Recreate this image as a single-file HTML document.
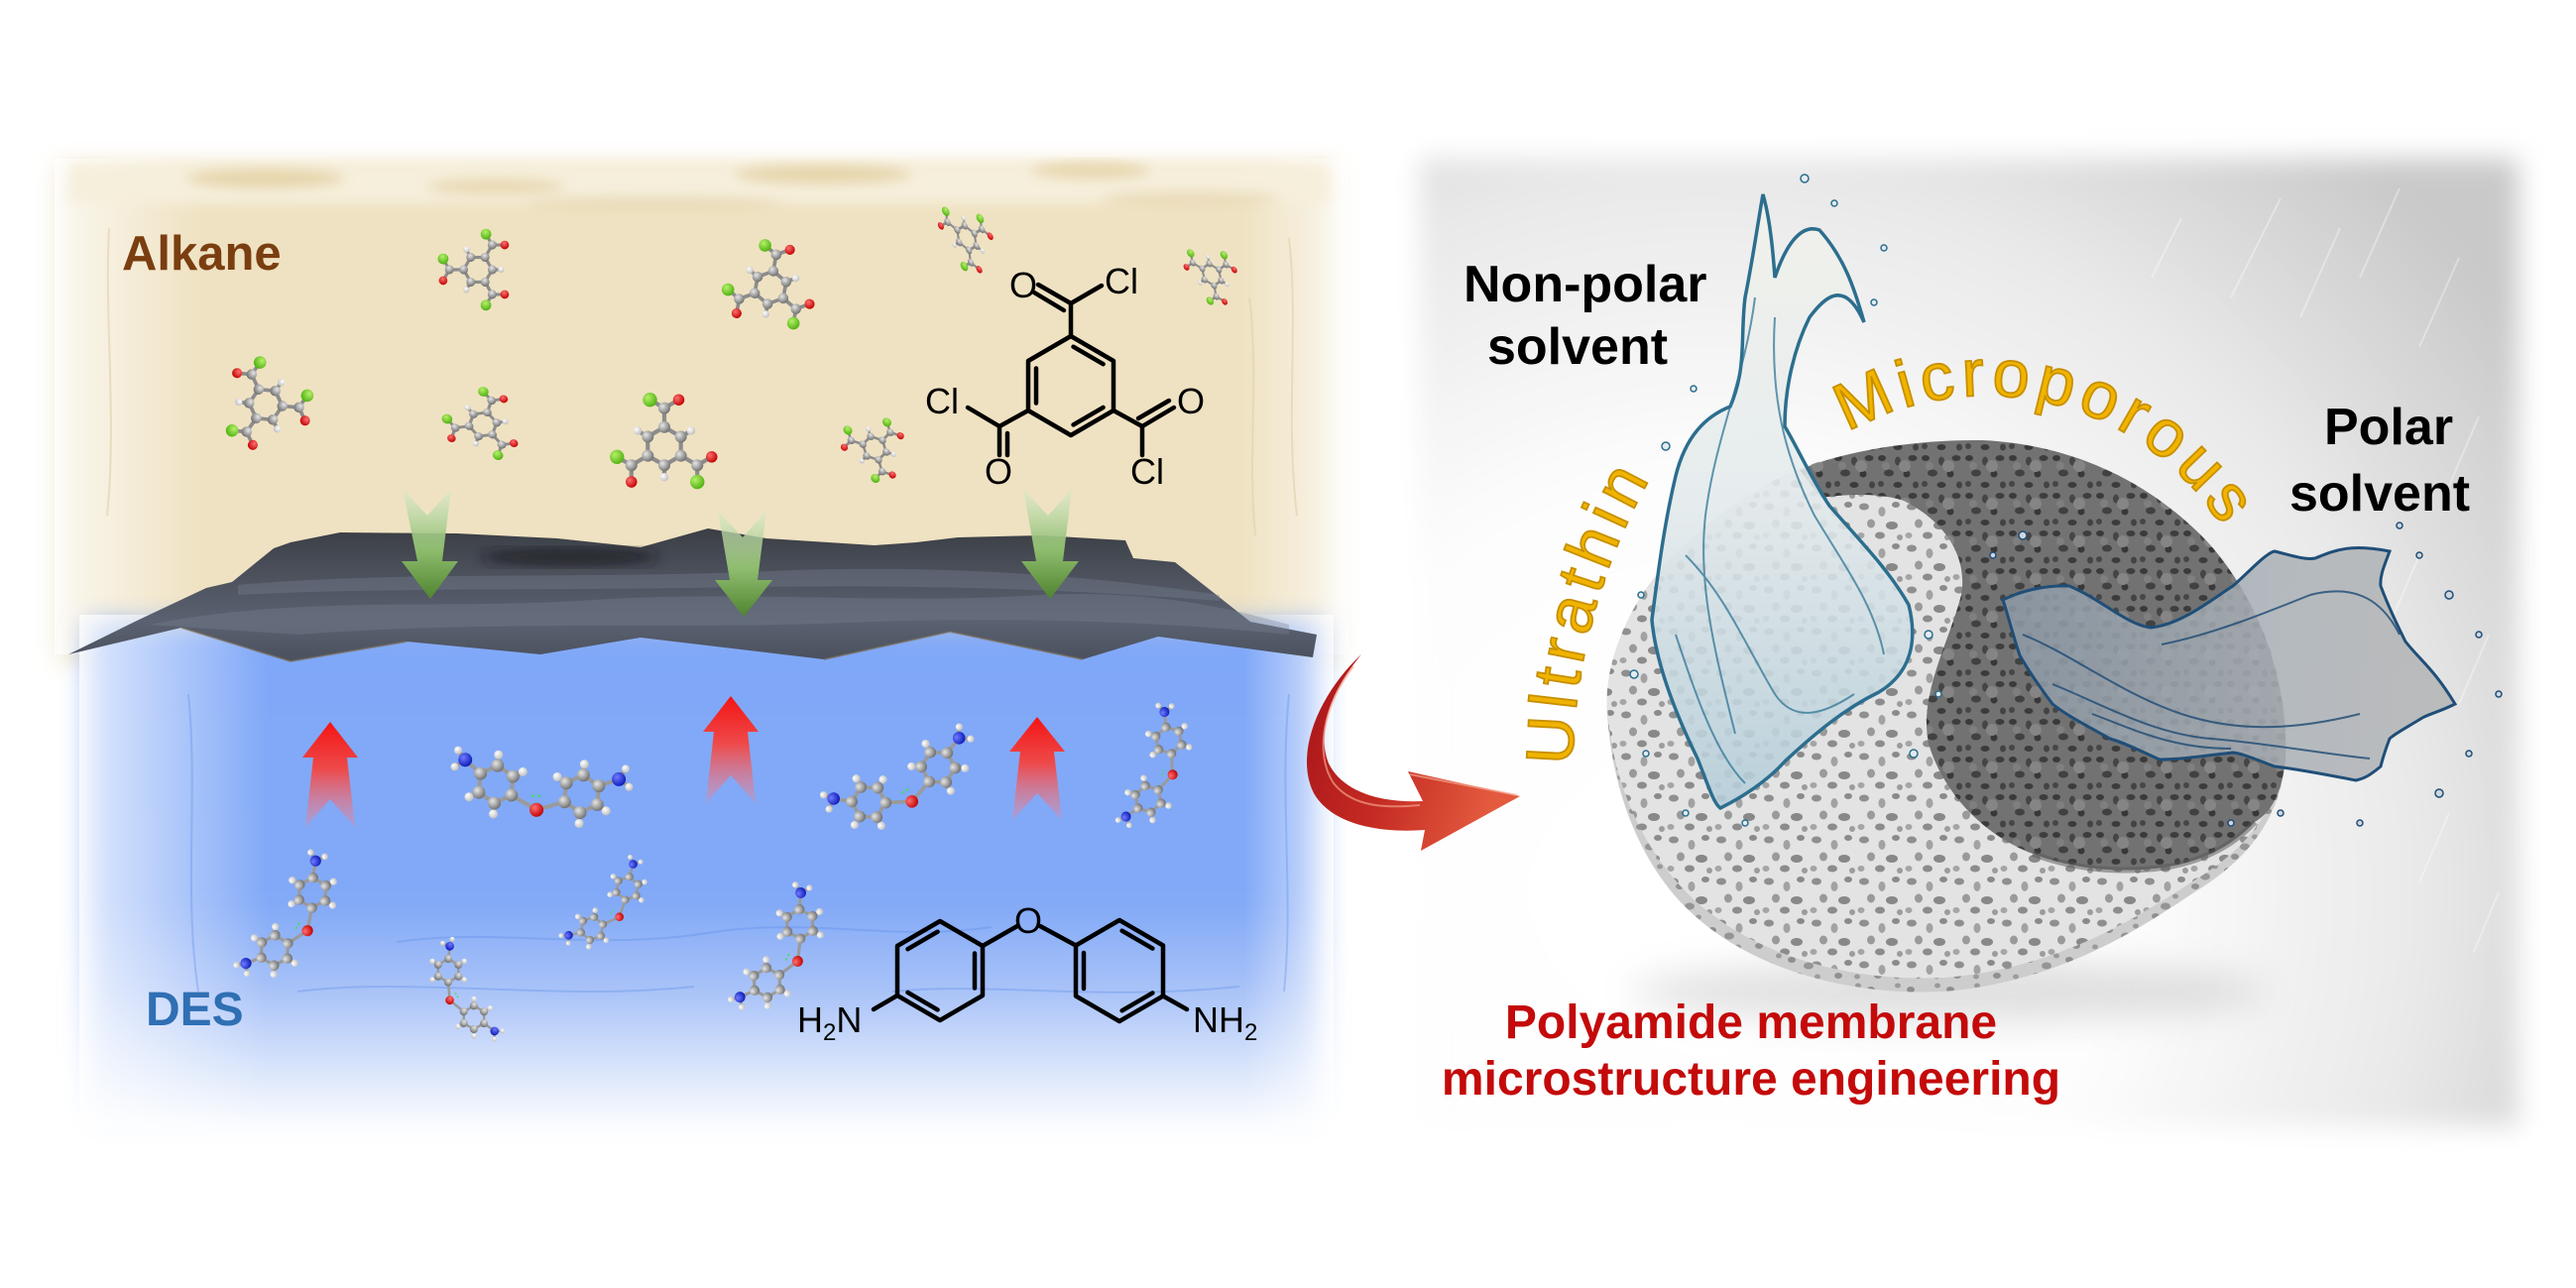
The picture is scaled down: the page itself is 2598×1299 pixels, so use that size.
<!DOCTYPE html>
<html><head><meta charset="utf-8">
<style>
html,body{margin:0;padding:0;background:#fff;}
svg{display:block;}
text{font-family:"Liberation Sans",Arial,sans-serif;}
</style></head><body>
<svg width="2598" height="1299" viewBox="0 0 2598 1299" xmlns="http://www.w3.org/2000/svg">
<defs>
  <filter id="soft" x="-5%" y="-5%" width="110%" height="110%"><feGaussianBlur stdDeviation="13"/></filter>
  <filter id="soft6" x="-10%" y="-10%" width="120%" height="120%"><feGaussianBlur stdDeviation="6"/></filter>
  <filter id="soft20" x="-20%" y="-50%" width="140%" height="200%"><feGaussianBlur stdDeviation="18"/></filter>
  <filter id="b1"><feGaussianBlur stdDeviation="1"/></filter>

  <radialGradient id="gC" cx="35%" cy="35%" r="70%"><stop offset="0" stop-color="#e6e6e6"/><stop offset="1" stop-color="#6e6e6e"/></radialGradient>
  <radialGradient id="gH" cx="35%" cy="35%" r="70%"><stop offset="0" stop-color="#ffffff"/><stop offset="1" stop-color="#bdbdbd"/></radialGradient>
  <radialGradient id="gO" cx="35%" cy="35%" r="70%"><stop offset="0" stop-color="#ff7070"/><stop offset="1" stop-color="#c00000"/></radialGradient>
  <radialGradient id="gN" cx="35%" cy="35%" r="70%"><stop offset="0" stop-color="#6f7bff"/><stop offset="1" stop-color="#0c1ab8"/></radialGradient>
  <radialGradient id="gCl" cx="35%" cy="35%" r="70%"><stop offset="0" stop-color="#b6f06a"/><stop offset="1" stop-color="#4fb010"/></radialGradient>

  <linearGradient id="gGreen" x1="0" y1="0" x2="0" y2="1">
    <stop offset="0" stop-color="#d9ebcc" stop-opacity="0.6"/>
    <stop offset="0.55" stop-color="#8fbd6e"/>
    <stop offset="1" stop-color="#4f8430"/>
  </linearGradient>
  <linearGradient id="gRedA" x1="0" y1="0" x2="0" y2="1">
    <stop offset="0" stop-color="#f41414"/>
    <stop offset="0.45" stop-color="#ee4a4a"/>
    <stop offset="1" stop-color="#e88aa0" stop-opacity="0.35"/>
  </linearGradient>
  <linearGradient id="gBlue" x1="0" y1="0" x2="0" y2="1">
    <stop offset="0" stop-color="#80a8f8"/>
    <stop offset="0.55" stop-color="#82a9f7"/>
    <stop offset="0.72" stop-color="#a8c2f8"/>
    <stop offset="0.88" stop-color="#dbe6fb"/>
    <stop offset="1" stop-color="#ffffff"/>
  </linearGradient>
  <linearGradient id="gEdgeL" x1="0" y1="0" x2="1" y2="0">
    <stop offset="0" stop-color="#ffffff" stop-opacity="0.75"/>
    <stop offset="1" stop-color="#ffffff" stop-opacity="0"/>
  </linearGradient>
  <linearGradient id="gEdgeR" x1="0" y1="0" x2="1" y2="0">
    <stop offset="0" stop-color="#ffffff" stop-opacity="0"/>
    <stop offset="1" stop-color="#ffffff" stop-opacity="0.7"/>
  </linearGradient>
  <linearGradient id="gMem" x1="0" y1="0" x2="0" y2="1">
    <stop offset="0" stop-color="#3b3e44"/>
    <stop offset="0.35" stop-color="#4c515c"/>
    <stop offset="0.7" stop-color="#5a6170"/>
    <stop offset="1" stop-color="#4a505d"/>
  </linearGradient>
  <linearGradient id="gArrow" x1="0" y1="0" x2="1" y2="0.3">
    <stop offset="0" stop-color="#a8141a"/>
    <stop offset="0.5" stop-color="#c42a22"/>
    <stop offset="1" stop-color="#e35a3e"/>
  </linearGradient>
  <radialGradient id="gGray" gradientUnits="userSpaceOnUse" cx="1720" cy="900" r="1000">
    <stop offset="0" stop-color="#ffffff"/>
    <stop offset="0.42" stop-color="#fdfdfd"/>
    <stop offset="0.72" stop-color="#e9e9e9"/>
    <stop offset="1" stop-color="#c9c9c9"/>
  </radialGradient>
  <linearGradient id="gSplL" x1="0" y1="0" x2="0" y2="1">
    <stop offset="0" stop-color="#f2f2ec"/>
    <stop offset="0.5" stop-color="#e3eaec"/>
    <stop offset="1" stop-color="#b4cdd9"/>
  </linearGradient>
  <linearGradient id="gSplR" x1="0" y1="0" x2="1" y2="0">
    <stop offset="0" stop-color="#8d9aa7"/>
    <stop offset="0.6" stop-color="#a9b0b6"/>
    <stop offset="1" stop-color="#b4b4b4"/>
  </linearGradient>

  <pattern id="pW" width="48" height="42" patternUnits="userSpaceOnUse">
    <rect width="48" height="42" fill="#e3e3e3"/>
    <ellipse cx="8" cy="7" rx="5" ry="3.5" fill="#8f8f8f"/>
    <ellipse cx="26" cy="12" rx="3.5" ry="5" fill="#a2a2a2"/>
    <ellipse cx="40" cy="5" rx="4" ry="3" fill="#8a8a8a"/>
    <ellipse cx="15" cy="24" rx="4" ry="4.5" fill="#9a9a9a"/>
    <ellipse cx="36" cy="26" rx="6" ry="4" fill="#888888"/>
    <ellipse cx="5" cy="36" rx="3.5" ry="3" fill="#a5a5a5"/>
    <ellipse cx="24" cy="36" rx="5" ry="3.5" fill="#8c8c8c"/>
    <ellipse cx="44" cy="38" rx="3" ry="3" fill="#9c9c9c"/>
  </pattern>
  <pattern id="pR" width="40" height="30" patternUnits="userSpaceOnUse">
    <rect width="40" height="30" fill="#cdcdcd"/>
    <ellipse cx="7" cy="8" rx="4" ry="3" fill="#8e8e8e"/>
    <ellipse cx="24" cy="14" rx="5" ry="3.5" fill="#959595"/>
    <ellipse cx="34" cy="4" rx="3" ry="2.5" fill="#9a9a9a"/>
    <ellipse cx="14" cy="24" rx="4" ry="3" fill="#909090"/>
    <ellipse cx="33" cy="25" rx="3" ry="2.5" fill="#9c9c9c"/>
  </pattern>
  <pattern id="pD" width="44" height="38" patternUnits="userSpaceOnUse">
    <rect width="44" height="38" fill="#727272"/>
    <ellipse cx="6" cy="6" rx="4" ry="3" fill="#3a3a3a"/>
    <ellipse cx="22" cy="9" rx="3" ry="4.5" fill="#454545"/>
    <ellipse cx="37" cy="6" rx="4.5" ry="3" fill="#3d3d3d"/>
    <ellipse cx="13" cy="21" rx="5" ry="3.5" fill="#414141"/>
    <ellipse cx="31" cy="22" rx="3.5" ry="3.5" fill="#383838"/>
    <ellipse cx="5" cy="32" rx="3" ry="3" fill="#464646"/>
    <ellipse cx="22" cy="33" rx="4.5" ry="3" fill="#3b3b3b"/>
    <ellipse cx="40" cy="33" rx="3" ry="3.5" fill="#434343"/>
    <circle cx="29" cy="14" r="6" fill="#858585"/>
    <circle cx="10" cy="14" r="4" fill="#7f7f7f"/>
  </pattern>

  <!-- TMC ball and stick -->
  <g id="tmc">
    <g stroke="#8c8c8c" stroke-width="3.5" fill="none">
      <polygon points="0,-16 13.9,-8 13.9,8 0,16 -13.9,8 -13.9,-8"/>
      <line x1="0" y1="-16" x2="0" y2="-32"/><line x1="0" y1="-32" x2="-12.1" y2="-39"/><line x1="0" y1="-32" x2="12.1" y2="-39"/>
      <line x1="13.9" y1="8" x2="27.7" y2="16"/><line x1="27.7" y1="16" x2="27.7" y2="30"/><line x1="27.7" y1="16" x2="39.8" y2="9"/>
      <line x1="-13.9" y1="8" x2="-27.7" y2="16"/><line x1="-27.7" y1="16" x2="-39.8" y2="9"/><line x1="-27.7" y1="16" x2="-27.7" y2="30"/>
      <line x1="13.9" y1="-8" x2="22.5" y2="-13"/><line x1="0" y1="16" x2="0" y2="26"/><line x1="-13.9" y1="-8" x2="-22.5" y2="-13"/>
    </g>
    <g fill="url(#gC)">
      <circle cx="0" cy="-16" r="5"/><circle cx="13.9" cy="-8" r="5"/><circle cx="13.9" cy="8" r="5"/><circle cx="0" cy="16" r="5"/><circle cx="-13.9" cy="8" r="5"/><circle cx="-13.9" cy="-8" r="5"/>
      <circle cx="0" cy="-32" r="5"/><circle cx="27.7" cy="16" r="5"/><circle cx="-27.7" cy="16" r="5"/>
    </g>
    <g fill="url(#gCl)"><circle cx="-12.1" cy="-39" r="6"/><circle cx="27.7" cy="30" r="6"/><circle cx="-39.8" cy="9" r="6"/></g>
    <g fill="url(#gO)"><circle cx="12.1" cy="-39" r="4.8"/><circle cx="39.8" cy="9" r="4.8"/><circle cx="-27.7" cy="30" r="4.8"/></g>
    <g fill="url(#gH)"><circle cx="22.5" cy="-13" r="3.5"/><circle cx="0" cy="26" r="3.5"/><circle cx="-22.5" cy="-13" r="3.5"/></g>
  </g>

  <!-- ODA ball and stick -->
  <g id="oda">
    <g stroke="#9a9a9a" stroke-width="4" fill="none">
      <polygon points="-45,-19 -28.5,-9.5 -28.5,9.5 -45,19 -61.5,9.5 -61.5,-9.5"/>
      <polygon points="42,-17 58.5,-7.5 58.5,11.5 42,21 25.5,11.5 25.5,-7.5"/>
      <polyline points="-28.5,9.5 -2,22 25.5,11.5"/>
      <line x1="-61.5" y1="-9.5" x2="-78" y2="-22"/><line x1="58.5" y1="-7.5" x2="78" y2="-16"/>
      <line x1="-78" y1="-22" x2="-86" y2="-31"/><line x1="-78" y1="-22" x2="-88" y2="-14"/>
      <line x1="78" y1="-16" x2="84" y2="-27"/><line x1="78" y1="-16" x2="89" y2="-9"/>
      <line x1="-45" y1="-19" x2="-45" y2="-30"/><line x1="-45" y1="19" x2="-45" y2="30"/><line x1="-61.5" y1="9.5" x2="-71" y2="15"/><line x1="-28.5" y1="-9.5" x2="-19" y2="-15"/>
      <line x1="42" y1="-17" x2="42" y2="-28"/><line x1="42" y1="21" x2="42" y2="32"/><line x1="58.5" y1="11.5" x2="68" y2="17"/><line x1="25.5" y1="-7.5" x2="16" y2="-13"/>
    </g>
    <g fill="url(#gH)">
      <circle cx="-86" cy="-31" r="4"/><circle cx="-88" cy="-14" r="4"/><circle cx="84" cy="-27" r="4"/><circle cx="89" cy="-9" r="4"/>
      <circle cx="-45" cy="-30" r="4.5"/><circle cx="-45" cy="30" r="4.5"/><circle cx="-71" cy="15" r="4.5"/><circle cx="-19" cy="-15" r="4.5"/>
      <circle cx="42" cy="-28" r="4.5"/><circle cx="42" cy="32" r="4.5"/><circle cx="68" cy="17" r="4.5"/><circle cx="16" cy="-13" r="4.5"/>
    </g>
    <g fill="url(#gC)">
      <circle cx="-45" cy="-19" r="6.5"/><circle cx="-28.5" cy="-9.5" r="6.5"/><circle cx="-28.5" cy="9.5" r="6.5"/><circle cx="-45" cy="19" r="6.5"/><circle cx="-61.5" cy="9.5" r="6.5"/><circle cx="-61.5" cy="-9.5" r="6.5"/>
      <circle cx="42" cy="-17" r="6.5"/><circle cx="58.5" cy="-7.5" r="6.5"/><circle cx="58.5" cy="11.5" r="6.5"/><circle cx="42" cy="21" r="6.5"/><circle cx="25.5" cy="11.5" r="6.5"/><circle cx="25.5" cy="-7.5" r="6.5"/>
    </g>
    <circle cx="-2" cy="22" r="7" fill="url(#gO)"/>
    <circle cx="-78" cy="-22" r="7" fill="url(#gN)"/><circle cx="78" cy="-16" r="7" fill="url(#gN)"/>
    <line x1="-8" y1="8" x2="4" y2="8" stroke="#3ee05a" stroke-width="2" stroke-dasharray="3 3"/>
  </g>
</defs>

<rect width="2598" height="1299" fill="#ffffff"/>

<!-- ================= LEFT PANEL ================= -->
<rect x="60" y="166" width="1285" height="500" fill="#efe2c2" filter="url(#soft)"/>
<rect x="55" y="160" width="150" height="500" fill="url(#gEdgeL)"/>
<rect x="1250" y="160" width="110" height="500" fill="url(#gEdgeR)"/>
<g filter="url(#soft6)">
  <rect x="70" y="165" width="1270" height="40" fill="#f6efdc"/>
  <ellipse cx="268" cy="180" rx="80" ry="10" fill="#e6d5aa"/>
  <ellipse cx="500" cy="188" rx="70" ry="8" fill="#e8d8b0"/>
  <ellipse cx="830" cy="176" rx="90" ry="10" fill="#e6d6ac"/>
  <ellipse cx="1100" cy="172" rx="60" ry="9" fill="#e8d8b0"/>
  <ellipse cx="660" cy="205" rx="130" ry="7" fill="#e9dbb8"/>
  <ellipse cx="1200" cy="200" rx="90" ry="7" fill="#eadcba"/>
</g>
<g stroke="#e3d4ae" stroke-width="2" fill="none" opacity="0.7">
  <path d="M110,230 C105,320 118,420 108,520"/>
  <path d="M1300,240 C1310,330 1296,420 1308,520"/>
  <path d="M1260,300 C1270,380 1258,460 1266,540"/>
</g>

<rect x="88" y="628" width="1245" height="515" fill="url(#gBlue)" filter="url(#soft)"/>
<rect x="80" y="620" width="190" height="520" fill="url(#gEdgeL)"/>
<rect x="1255" y="620" width="90" height="520" fill="url(#gEdgeR)"/>
<g stroke="#5e8de6" stroke-width="2" fill="none" opacity="0.35">
  <path d="M190,700 C200,800 185,900 200,1000"/>
  <path d="M1300,700 C1290,800 1305,900 1295,1000"/>
  <path d="M400,950 C500,935 600,960 720,940 C820,925 900,950 1000,935"/>
  <path d="M300,1000 C420,985 560,1010 700,995"/>
  <path d="M900,1000 C1000,990 1100,1010 1250,995"/>
</g>

<polygon points="69,660 140,625 208,593 234,587 276,553 293,547 343,537 461,538 562,543 646,552 714,533 773,543 882,550 924,547 966,542 1050,540 1135,545 1143,563 1185,567 1261,627 1328,640 1324,663 1168,642 1092,665 958,637 831,665 646,643 545,660 410,647 293,667 183,633" fill="url(#gMem)"/>
<g opacity="0.35" fill="#7a8396">
  <path d="M150,630 C300,600 450,615 600,605 C750,595 900,610 1050,600 C1150,595 1230,610 1300,630 L1300,640 C1150,625 1000,622 850,628 C700,635 500,625 300,640 Z"/>
  <path d="M240,590 C400,575 600,585 800,575 C950,570 1100,580 1230,600 L1230,606 C1050,592 900,590 750,592 C550,596 400,592 240,600 Z"/>
</g>
<ellipse cx="575" cy="562" rx="90" ry="10" fill="#15171a" opacity="0.6" filter="url(#soft6)"/>
<g stroke="#7a6a50" stroke-width="2" fill="none" opacity="0.6">
  <path d="M183,633 L293,667 L410,647"/><path d="M831,665 L958,637 L1092,665"/>
</g>

<path d="M406,493 L431,520 L455,493 L446,566 L462,566 L434,604 L405,566 L421,566 Z" fill="url(#gGreen)"/>
<path d="M724,515 L749,542 L773,515 L764,585 L779,585 L750,622 L721,585 L736,585 Z" fill="url(#gGreen)"/>
<path d="M1032,493 L1057,520 L1081,493 L1072,566 L1088,566 L1059,604 L1030,566 L1045,566 Z" fill="url(#gGreen)"/>

<path d="M333,728 L361,764 L350,764 L358,834 L333,806 L308,834 L316,764 L305,764 Z" fill="url(#gRedA)"/>
<path d="M737,702 L765,738 L754,738 L762,810 L737,782 L712,810 L720,738 L709,738 Z" fill="url(#gRedA)"/>
<path d="M1046,723 L1074,758 L1063,758 L1071,827 L1046,800 L1021,827 L1029,758 L1018,758 Z" fill="url(#gRedA)"/>

<use href="#tmc" transform="translate(482,272) rotate(30) scale(0.9)"/>
<use href="#tmc" transform="translate(777,290) rotate(10) scale(1.05)"/>
<use href="#tmc" transform="translate(975,240) rotate(60) scale(0.85,0.55)"/>
<use href="#tmc" transform="translate(1222,277) rotate(55) scale(0.75,0.55)"/>
<use href="#tmc" transform="translate(268,408) rotate(95) scale(1.05)"/>
<use href="#tmc" transform="translate(487,428) rotate(20) scale(0.9,0.8)"/>
<use href="#tmc" transform="translate(670,450) scale(1.2)"/>
<use href="#tmc" transform="translate(882,452) rotate(45) scale(0.8,0.7)"/>

<use href="#oda" transform="translate(545,795) rotate(5) scale(1.0)"/>
<use href="#oda" transform="translate(912,790) rotate(-28) scale(0.9)"/>
<use href="#oda" transform="translate(1168,775) rotate(-72) scale(0.72)"/>
<use href="#oda" transform="translate(296,928) rotate(-58) scale(0.8)"/>
<use href="#oda" transform="translate(466,1003) rotate(60) scale(0.62)"/>
<use href="#oda" transform="translate(615,915) rotate(-50) scale(0.62)"/>
<use href="#oda" transform="translate(790,960) rotate(-62) scale(0.78)"/>

<g stroke="#000" stroke-width="4.5" fill="none" stroke-linecap="round" stroke-linejoin="round">
  <polygon points="1080,339 1123,364 1123,414 1080,439 1037,414 1037,364"/>
  <line x1="1082.5" y1="349.7" x2="1112.6" y2="367.2"/>
  <line x1="1112.6" y1="410.9" x2="1082.5" y2="428.4"/>
  <line x1="1045" y1="406.5" x2="1045" y2="371.5"/>
  <line x1="1080" y1="339" x2="1080" y2="306"/>
  <line x1="1080" y1="306" x2="1047" y2="287"/>
  <line x1="1073" y1="313" x2="1043" y2="295"/>
  <line x1="1080" y1="306" x2="1111" y2="288"/>
  <line x1="1037" y1="414" x2="1008" y2="430"/>
  <line x1="1008" y1="430" x2="976" y2="411"/>
  <line x1="1008" y1="430" x2="1008" y2="459"/>
  <line x1="1016" y1="437" x2="1016" y2="459"/>
  <line x1="1123" y1="414" x2="1152" y2="430"/>
  <line x1="1152" y1="430" x2="1184" y2="411"/>
  <line x1="1148" y1="422" x2="1179" y2="404"/>
  <line x1="1152" y1="430" x2="1152" y2="459"/>
</g>
<g font-size="36" fill="#000" text-anchor="middle">
  <text x="1032" y="300">O</text>
  <text x="1131" y="296">Cl</text>
  <text x="950" y="417">Cl</text>
  <text x="1007" y="488">O</text>
  <text x="1201" y="417">O</text>
  <text x="1157" y="488">Cl</text>
</g>

<g stroke="#000" stroke-width="4.5" fill="none" stroke-linecap="round" stroke-linejoin="round">
  <polygon points="948,929 991,954 991,1004 948,1029 905,1004 905,954"/>
  <line x1="915.5" y1="957.2" x2="945.6" y2="939.7"/>
  <line x1="983" y1="961.5" x2="983" y2="996.5"/>
  <line x1="915.5" y1="1000.9" x2="945.6" y2="1018.4"/>
  <polygon points="1129,928 1173,953.5 1173,1004.5 1129,1030 1085,1004.5 1085,953.5"/>
  <line x1="1131.6" y1="938.7" x2="1162.4" y2="956.6"/>
  <line x1="1162.4" y1="1001.4" x2="1131.6" y2="1019.3"/>
  <line x1="1093" y1="961" x2="1093" y2="997"/>
  <line x1="991" y1="954" x2="1026" y2="934"/>
  <line x1="1049" y1="934" x2="1085" y2="953.5"/>
  <line x1="905" y1="1004" x2="881" y2="1018"/>
  <line x1="1173" y1="1004.5" x2="1197" y2="1018"/>
</g>
<g font-size="36" fill="#000">
  <text x="1037" y="941" text-anchor="middle">O</text>
  <text x="804" y="1041">H<tspan font-size="24" dy="8">2</tspan><tspan dy="-8">N</tspan></text>
  <text x="1203" y="1041">NH<tspan font-size="24" dy="8">2</tspan></text>
</g>

<text x="123" y="272" font-size="49" font-weight="bold" fill="#7a3e10">Alkane</text>
<text x="147" y="1034" font-size="48" font-weight="bold" fill="#2f6fb3">DES</text>

<!-- ================= RIGHT PANEL ================= -->
<rect x="1432" y="160" width="1108" height="976" fill="url(#gGray)" filter="url(#soft)"/>
<g stroke="#ffffff" stroke-width="2" opacity="0.35">
  <path d="M2300,200 L2250,300 M2360,230 L2320,320 M2420,190 L2380,280 M2480,260 L2440,350 M2500,420 L2470,490 M2440,560 L2410,630 M2510,640 L2480,710 M2470,820 L2440,890 M2200,220 L2170,280 M2520,900 L2495,960"/>
</g>

<!-- curved red arrow (drawn above gray box) -->
<path d="M1373,660 C1330,700 1305,760 1325,800 C1345,835 1400,840 1437,837 L1433,858 L1533,803 L1420,778 L1435,808 C1395,810 1355,800 1340,770 C1328,740 1340,700 1373,660 Z" fill="url(#gArrow)"/>
<path d="M1365,672 C1335,710 1325,760 1345,790 C1365,815 1400,815 1432,812" stroke="#f2a08a" stroke-width="2" fill="none" opacity="0.7"/>
<path d="M1422,781 L1530,802" stroke="#f4a58e" stroke-width="2" opacity="0.7"/>

<!-- disc shadow -->
<ellipse cx="1965" cy="1000" rx="320" ry="30" fill="#9a9a9a" opacity="0.3" filter="url(#soft20)"/>

<!-- disc rim (outer) -->
<path d="M1621,719 C1618,680 1640,610 1690,560 C1740,510 1800,470 1866,458 C1930,444 2000,444 2060,458 C2140,476 2200,515 2240,565 C2285,620 2310,700 2305,764 C2300,830 2262,870 2213,900 C2160,935 2080,990 1960,1000 C1860,1005 1760,975 1700,915 C1650,865 1625,790 1621,719 Z" fill="url(#pR)"/>
<!-- white top face -->
<path d="M1621,712 C1618,673 1640,607 1690,558 C1740,509 1800,470 1866,458 C1930,444 2000,444 2060,458 C2140,476 2200,515 2240,565 C2285,620 2309,695 2304,758 C2298,820 2262,858 2213,888 C2160,922 2080,976 1961,986 C1863,991 1765,962 1705,904 C1655,856 1625,785 1621,712 Z" fill="url(#pW)"/>
<!-- dark region -->
<path d="M1815,474 C1860,455 1930,443 2000,444 C2080,448 2160,478 2225,545 C2280,605 2308,690 2305,764 C2302,800 2290,820 2274,829 C2250,855 2220,868 2188,874 C2150,880 2100,880 2050,861 C2000,842 1960,800 1945,750 C1935,700 1965,650 1978,600 C1985,560 1960,525 1920,505 C1890,495 1850,500 1836,502 Z" fill="url(#pD)"/>
<path d="M2274,829 C2250,855 2220,868 2188,874 C2150,880 2100,880 2050,861" stroke="#555" stroke-width="6" fill="none" opacity="0.5"/>

<!-- left splash -->
<path d="M1778,196 C1772,230 1768,260 1760,300 C1755,340 1762,370 1745,410 C1720,420 1700,440 1690,480 C1678,530 1672,580 1666,625 C1670,670 1690,720 1712,765 C1722,790 1728,810 1735,815 C1755,805 1780,790 1800,768 C1830,740 1860,715 1895,698 C1925,680 1935,650 1925,610 C1905,575 1880,550 1845,510 C1828,485 1812,450 1800,430 C1800,390 1810,350 1825,320 C1840,300 1860,280 1880,325 C1870,290 1860,260 1835,232 C1815,225 1800,250 1790,280 C1788,250 1785,220 1778,196 Z" fill="url(#gSplL)" fill-opacity="0.88" stroke="#2c6e8e" stroke-width="3.5"/>
<g stroke="#2f7595" stroke-width="2" fill="none" opacity="0.75">
  <path d="M1770,300 C1760,380 1730,440 1720,520 C1712,590 1730,660 1750,740"/>
  <path d="M1790,320 C1785,400 1800,460 1830,520 C1860,570 1890,610 1900,660"/>
  <path d="M1700,560 C1740,600 1760,650 1790,700 C1810,730 1840,720 1870,700"/>
  <path d="M1690,640 C1710,700 1730,760 1760,790"/>
</g>
<g fill="#e3ecf0" stroke="#2c6e8e" stroke-width="1.5">
  <circle cx="1820" cy="180" r="4"/><circle cx="1850" cy="205" r="3"/><circle cx="1708" cy="392" r="3"/><circle cx="1680" cy="450" r="4"/>
  <circle cx="1655" cy="600" r="3"/><circle cx="1648" cy="680" r="4"/><circle cx="1660" cy="760" r="3"/><circle cx="1900" cy="250" r="3"/>
  <circle cx="1945" cy="640" r="4"/><circle cx="1955" cy="700" r="3"/><circle cx="1930" cy="760" r="4"/><circle cx="1890" cy="305" r="3"/>
  <circle cx="1700" cy="820" r="3"/><circle cx="1760" cy="830" r="3"/>
</g>

<!-- right splash -->
<path d="M2020,605 C2040,595 2065,590 2087,591 C2120,605 2145,630 2169,633 C2200,630 2230,605 2252,591 C2270,575 2285,558 2294,556 C2310,560 2325,565 2335,563 C2355,555 2370,548 2410,556 C2405,570 2400,580 2401,591 C2410,615 2420,635 2426,647 C2440,665 2455,675 2476,710 C2460,718 2450,720 2443,724 C2425,735 2415,740 2410,745 C2405,758 2403,765 2401,773 C2390,782 2385,785 2376,787 C2350,782 2320,776 2294,773 C2275,766 2262,760 2252,759 C2225,762 2200,766 2178,766 C2160,758 2145,750 2128,745 C2105,732 2085,722 2070,710 C2055,690 2045,675 2037,661 C2030,640 2025,620 2020,605 Z" fill="url(#gSplR)" fill-opacity="0.85" stroke="#1f4e78" stroke-width="3"/>
<g stroke="#1d4a74" stroke-width="2" fill="none" opacity="0.8">
  <path d="M2040,640 C2090,660 2140,700 2200,720 C2260,740 2320,735 2380,720"/>
  <path d="M2070,690 C2120,710 2170,740 2230,745 C2290,750 2340,760 2390,765"/>
  <path d="M2180,650 C2230,640 2280,620 2330,600 C2370,590 2400,600 2420,640"/>
  <path d="M2110,720 C2150,735 2190,755 2250,755"/>
</g>
<g fill="#d0d6dc" stroke="#1f4e78" stroke-width="1.5">
  <circle cx="2010" cy="560" r="3"/><circle cx="2040" cy="540" r="4"/><circle cx="2440" cy="560" r="3"/><circle cx="2470" cy="600" r="4"/>
  <circle cx="2500" cy="640" r="3"/><circle cx="2490" cy="760" r="3"/><circle cx="2460" cy="800" r="4"/><circle cx="2300" cy="820" r="3"/>
  <circle cx="2250" cy="830" r="3"/><circle cx="2520" cy="700" r="3"/><circle cx="2420" cy="530" r="3"/><circle cx="2380" cy="830" r="3"/>
</g>

<g font-weight="bold" fill="#000" font-size="52">
  <text x="1476" y="304">Non-polar</text>
  <text x="1500" y="367">solvent</text>
  <text x="2344" y="448">Polar</text>
  <text x="2309" y="515">solvent</text>
</g>

<g font-size="67" fill="#f0b400" stroke="#c78f00" stroke-width="1.8" text-anchor="middle">
  <text transform="translate(1888.2,423.6) rotate(-24.2)">M</text>
  <text transform="translate(1927.1,409.5) rotate(-15.7)">i</text>
  <text transform="translate(1956.8,402.8) rotate(-9.5)">c</text>
  <text transform="translate(1990.7,399.3) rotate(-2.5)">r</text>
  <text transform="translate(2026.7,400.0) rotate(4.9)">o</text>
  <text transform="translate(2069.4,407.0) rotate(13.7)">p</text>
  <text transform="translate(2110.5,420.4) rotate(22.6)">o</text>
  <text transform="translate(2142.7,436.3) rotate(29.9)">r</text>
  <text transform="translate(2172.6,456.2) rotate(37.3)">o</text>
  <text transform="translate(2204.9,485.0) rotate(46.1)">u</text>
  <text transform="translate(2231.3,516.9) rotate(54.6)">s</text>
</g>
<g font-size="67" fill="#f0b400" stroke="#c78f00" stroke-width="1.8" text-anchor="middle">
  <text transform="translate(1586.8,747.6) rotate(-87)">U</text>
  <text transform="translate(1590.0,709.6) rotate(-83.4)">l</text>
  <text transform="translate(1593.2,686.4) rotate(-81.1)">t</text>
  <text transform="translate(1598.0,659.8) rotate(-78.6)">r</text>
  <text transform="translate(1606.2,624.5) rotate(-75.1)">a</text>
  <text transform="translate(1616.0,591.5) rotate(-71.8)">t</text>
  <text transform="translate(1627.7,559.1) rotate(-68.5)">h</text>
  <text transform="translate(1640.4,529.2) rotate(-65.4)">i</text>
  <text transform="translate(1654.7,499.9) rotate(-62.3)">n</text>
</g>

<g font-weight="bold" fill="#c40a0a" font-size="48" text-anchor="middle">
  <text x="1766" y="1047">Polyamide membrane</text>
  <text x="1766" y="1104">microstructure engineering</text>
</g>
</svg>
</body></html>
